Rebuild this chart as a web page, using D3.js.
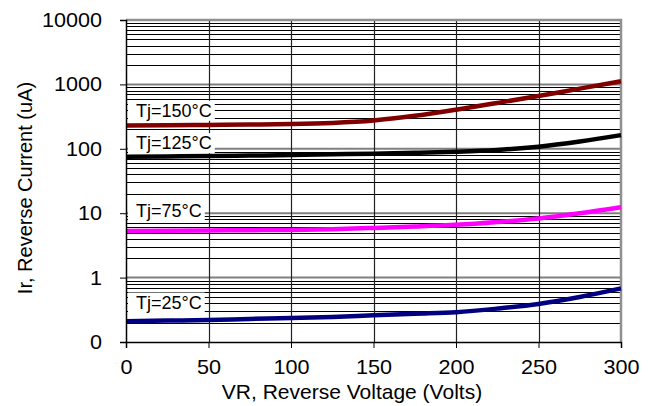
<!DOCTYPE html>
<html>
<head>
<meta charset="utf-8">
<script src="https://cdn.jsdelivr.net/npm/d3@7"></script>
<style>
  body { margin: 0; background: #fff; }
  text { font-family: "Liberation Sans", Arial, sans-serif; fill: #000; }
</style>
</head>
<body>
<script>
// reverse voltage samples (Volts)
var voltage = [0, 25, 50, 75, 100, 125, 150, 175, 200, 225, 250, 275, 300];

// reverse current per junction temperature (uA)
var ir150 = [230, 232, 235, 238, 242, 252, 275, 325, 405, 515, 660, 860, 1120];
var ir125 = [75, 76, 77, 78.5, 80, 82, 84, 86.5, 90, 96, 108, 130, 163];
var ir75  = [5.3, 5.35, 5.4, 5.45, 5.5, 5.65, 5.9, 6.2, 6.6, 7.3, 8.3, 10, 12.4];
var ir25  = [0.21, 0.215, 0.22, 0.228, 0.235, 0.245, 0.26, 0.275, 0.29, 0.33, 0.39, 0.5, 0.68];

var seriesNames = ["Tj=150\u00b0C", "Tj=125\u00b0C", "Tj=75\u00b0C", "Tj=25\u00b0C"];
var seriesData = [ir150, ir125, ir75, ir25];
var seriesColors = ["#800000", "#000000", "#ff00ff", "#000080"];

var xTicks = [0, 50, 100, 150, 200, 250, 300];
var yTicks = [0.1, 1, 10, 100, 1000, 10000];
var yTickLabels = ["0", "1", "10", "100", "1000", "10000"];

var breedte = 653, hoogte = 406;
var marge = {boven: 20, rechts: 32, beneden: 64, links: 126};
var rek = 1.08; // tick labels are drawn a bit wider than tall

var svg = d3.select("body").append("svg")
  .attr("width", breedte)
  .attr("height", hoogte);

var x = d3.scaleLinear()
  .domain([0, 300])
  .range([marge.links, breedte - marge.rechts]);

var y = d3.scaleLog()
  .domain([0.1, 10000])
  .range([hoogte - marge.beneden, marge.boven]);

// minor horizontal gridlines (2..9 in each decade)
var minor = [];
for (var d = 0; d < 5; d++) {
  for (var m = 2; m <= 9; m++) minor.push(m * Math.pow(10, d - 1));
}
svg.append("g").selectAll("line")
  .data(minor)
  .enter().append("line")
  .attr("x1", x(0)).attr("x2", x(300))
  .attr("y1", function(d) { return Math.round(y(d)) + 0.5; })
  .attr("y2", function(d) { return Math.round(y(d)) + 0.5; })
  .attr("stroke", "#000").attr("stroke-width", 1);

// major horizontal gridlines
svg.append("g").selectAll("line")
  .data(yTicks.slice(1, 5))
  .enter().append("line")
  .attr("x1", x(0)).attr("x2", x(300))
  .attr("y1", function(d) { return y(d); })
  .attr("y2", function(d) { return y(d); })
  .attr("stroke", "#808080").attr("stroke-width", 2);

// vertical gridlines
svg.append("g").selectAll("line")
  .data(xTicks.slice(1, 6))
  .enter().append("line")
  .attr("x1", function(d) { return Math.round(x(d)) + 0.5; })
  .attr("x2", function(d) { return Math.round(x(d)) + 0.5; })
  .attr("y1", y(10000)).attr("y2", y(0.1))
  .attr("stroke", "#222").attr("stroke-width", 1.2);

// top and right border
svg.append("path")
  .attr("d", "M" + x(0) + "," + y(10000) + "H" + x(300) + "V" + y(0.1))
  .attr("fill", "none").attr("stroke", "#909090").attr("stroke-width", 2.5);

// curves
var lijn = d3.line()
  .curve(d3.curveMonotoneX)
  .x(function(d, i) { return x(voltage[i]); })
  .y(function(d) { return y(d); });

svg.append("g").selectAll("path")
  .data(seriesData)
  .enter().append("path")
  .attr("d", lijn)
  .attr("fill", "none")
  .attr("stroke", function(d, i) { return seriesColors[i]; })
  .attr("stroke-width", 4.5);

// series labels with white box
var labelOffset = [-15, -14, -20, -19];
var labels = svg.append("g").selectAll("g")
  .data(seriesNames)
  .enter().append("g");

labels.append("text")
  .attr("x", x(0) + 10)
  .attr("y", function(d, i) { return y(seriesData[i][0]) + labelOffset[i]; })
  .attr("dy", "0.35em")
  .attr("font-size", "18px")
  .text(function(d) { return d; });

labels.each(function() {
  var t = d3.select(this).select("text");
  var b = t.node().getBBox();
  d3.select(this).insert("rect", "text")
    .attr("x", x(0) + 2)
    .attr("y", b.y)
    .attr("width", b.x + b.width + 3 - (x(0) + 2))
    .attr("height", b.height)
    .attr("fill", "#fff");
});

// axes
var asY = d3.axisLeft(y)
  .tickValues(yTicks)
  .tickFormat(function(d, i) { return yTickLabels[i]; })
  .tickSize(6);

svg.append("g")
  .attr("transform", "translate(" + x(0) + ",0)")
  .call(asY)
  .call(function(g) {
    g.select(".domain").attr("stroke-width", 1.5);
    g.selectAll("text")
      .attr("font-size", "20px")
      .attr("font-family", "Liberation Sans, Arial, sans-serif")
      .attr("x", -24 / rek)
      .attr("transform", "scale(" + rek + ",1)");
  });

var asX = d3.axisBottom(x)
  .tickValues(xTicks)
  .tickSize(6)
  .tickPadding(12);

svg.append("g")
  .attr("transform", "translate(0," + y(0.1) + ")")
  .call(asX)
  .call(function(g) {
    g.select(".domain").attr("stroke-width", 1.5);
    g.selectAll("text")
      .attr("font-size", "20px")
      .attr("font-family", "Liberation Sans, Arial, sans-serif")
      .attr("transform", "scale(" + rek + ",1)");
  });

// axis titles
svg.append("text")
  .attr("x", 352)
  .attr("y", 399)
  .attr("text-anchor", "middle")
  .attr("font-size", "21px")
  .text("VR, Reverse Voltage (Volts)");

svg.append("text")
  .attr("transform", "translate(32,188) rotate(-90)")
  .attr("text-anchor", "middle")
  .attr("font-size", "20px")
  .text("Ir, Reverse Current (uA)");
</script>
</body>
</html>
